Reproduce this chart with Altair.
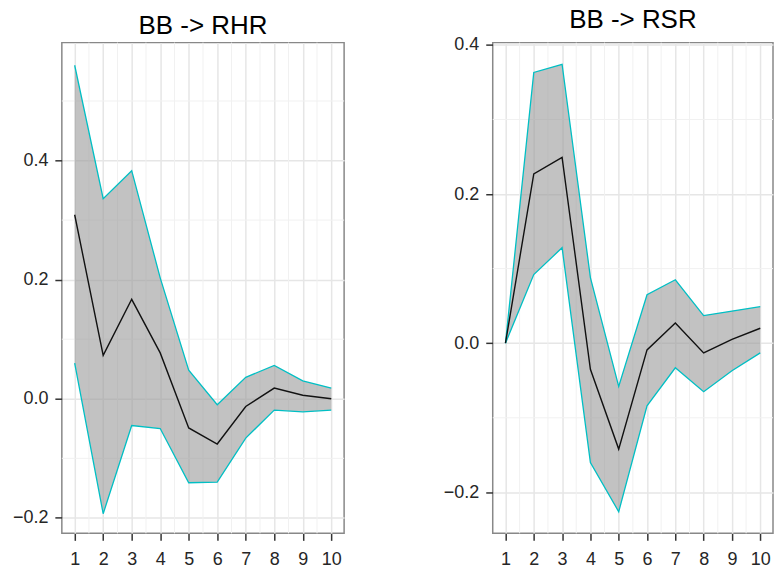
import altair as alt
import pandas as pd

# ---- data ----
steps = [1, 2, 3, 4, 5, 6, 7, 8, 9, 10]

rhr_irf = [0.309, 0.073, 0.167, 0.077, -0.049, -0.076, -0.013, 0.018, 0.006, 0.000]
rhr_upper = [0.560, 0.336, 0.383, 0.203, 0.048, -0.010, 0.036, 0.056, 0.030, 0.018]
rhr_lower = [0.060, -0.193, -0.045, -0.050, -0.141, -0.140, -0.066, -0.019, -0.022, -0.019]

rsr_irf = [0.000, 0.227, 0.249, -0.035, -0.142, -0.009, 0.027, -0.013, 0.005, 0.020]
rsr_upper = [0.000, 0.363, 0.374, 0.088, -0.058, 0.065, 0.085, 0.037, 0.043, 0.049]
rsr_lower = [0.000, 0.092, 0.128, -0.160, -0.226, -0.084, -0.033, -0.065, -0.037, -0.013]

x_ticks = steps
x_minor = [1.5, 2.5, 3.5, 4.5, 5.5, 6.5, 7.5, 8.5, 9.5]
y_ticks = [-0.2, 0.0, 0.2, 0.4]
rhr_y_minor = [-0.1, 0.1, 0.3, 0.5]
rsr_y_minor = [-0.1, 0.1, 0.3]

titles = ["BB -> RHR", "BB -> RSR"]

FONT = "Arial, Liberation Sans, sans-serif"
BAND_EDGE = "#00BFC4"


def panel(title, irf, upper, lower, y_minor, y_domain, width):
    df = pd.DataFrame({"step": steps, "irf": irf, "upper": upper, "lower": lower})
    xs = alt.Scale(domain=[0.55, 10.45], nice=False, zero=False)
    ys = alt.Scale(domain=y_domain, nice=False, zero=False)
    xax = alt.Axis(values=x_ticks, format="d", title=None)
    yax = alt.Axis(values=y_ticks, format=".1f", title=None)

    minor_x = (
        alt.Chart(pd.DataFrame({"step": x_minor}))
        .mark_rule(color="#F1F1F1", strokeWidth=1)
        .encode(x=alt.X("step:Q", scale=xs, axis=xax))
    )
    minor_y = (
        alt.Chart(pd.DataFrame({"irf": y_minor}))
        .mark_rule(color="#F1F1F1", strokeWidth=1)
        .encode(y=alt.Y("irf:Q", scale=ys, axis=yax))
    )
    base = alt.Chart(df)
    band = base.mark_area(color="#999999", opacity=0.6).encode(
        x=alt.X("step:Q", scale=xs, axis=xax),
        y=alt.Y("lower:Q", scale=ys, axis=yax),
        y2="upper:Q",
    )
    up = base.mark_line(color=BAND_EDGE, strokeWidth=1.3).encode(
        x=alt.X("step:Q", scale=xs, axis=xax),
        y=alt.Y("upper:Q", scale=ys, axis=yax),
    )
    lo = base.mark_line(color=BAND_EDGE, strokeWidth=1.3).encode(
        x=alt.X("step:Q", scale=xs, axis=xax),
        y=alt.Y("lower:Q", scale=ys, axis=yax),
    )
    mid = base.mark_line(color="#111111", strokeWidth=1.4).encode(
        x=alt.X("step:Q", scale=xs, axis=xax),
        y=alt.Y("irf:Q", scale=ys, axis=yax),
    )
    return alt.layer(minor_x, minor_y, band, up, lo, mid).properties(
        width=width,
        height=492,
        title=alt.TitleParams(
            text=title, fontSize=26, font=FONT, fontWeight="normal",
            color="#000000", offset=3, anchor="middle",
        ),
    )


left = panel(titles[0], rhr_irf, rhr_upper, rhr_lower, rhr_y_minor, [-0.226, 0.598], 283)
right = panel(titles[1], rsr_irf, rsr_upper, rsr_lower, rsr_y_minor, [-0.255, 0.403], 281)

chart = (
    alt.hconcat(left, right, spacing=96)
    .properties(padding={"left": 11, "top": 5, "right": 0, "bottom": 0})
    .configure_view(stroke="#888888", strokeWidth=1.5)
    .configure_axis(
        labelFont=FONT,
        labelFontSize=18,
        labelColor="#262626",
        tickColor="#333333",
        tickSize=7,
        tickWidth=1.5,
        domain=False,
        grid=True,
        gridColor="#E6E6E6",
        gridWidth=1.5,
    )
    .configure_axisY(labelPadding=7, minExtent=50, maxExtent=50)
    .configure_axisX(labelPadding=10)
)

chart.save("out.html", embed_options={"renderer": "svg", "actions": False})
